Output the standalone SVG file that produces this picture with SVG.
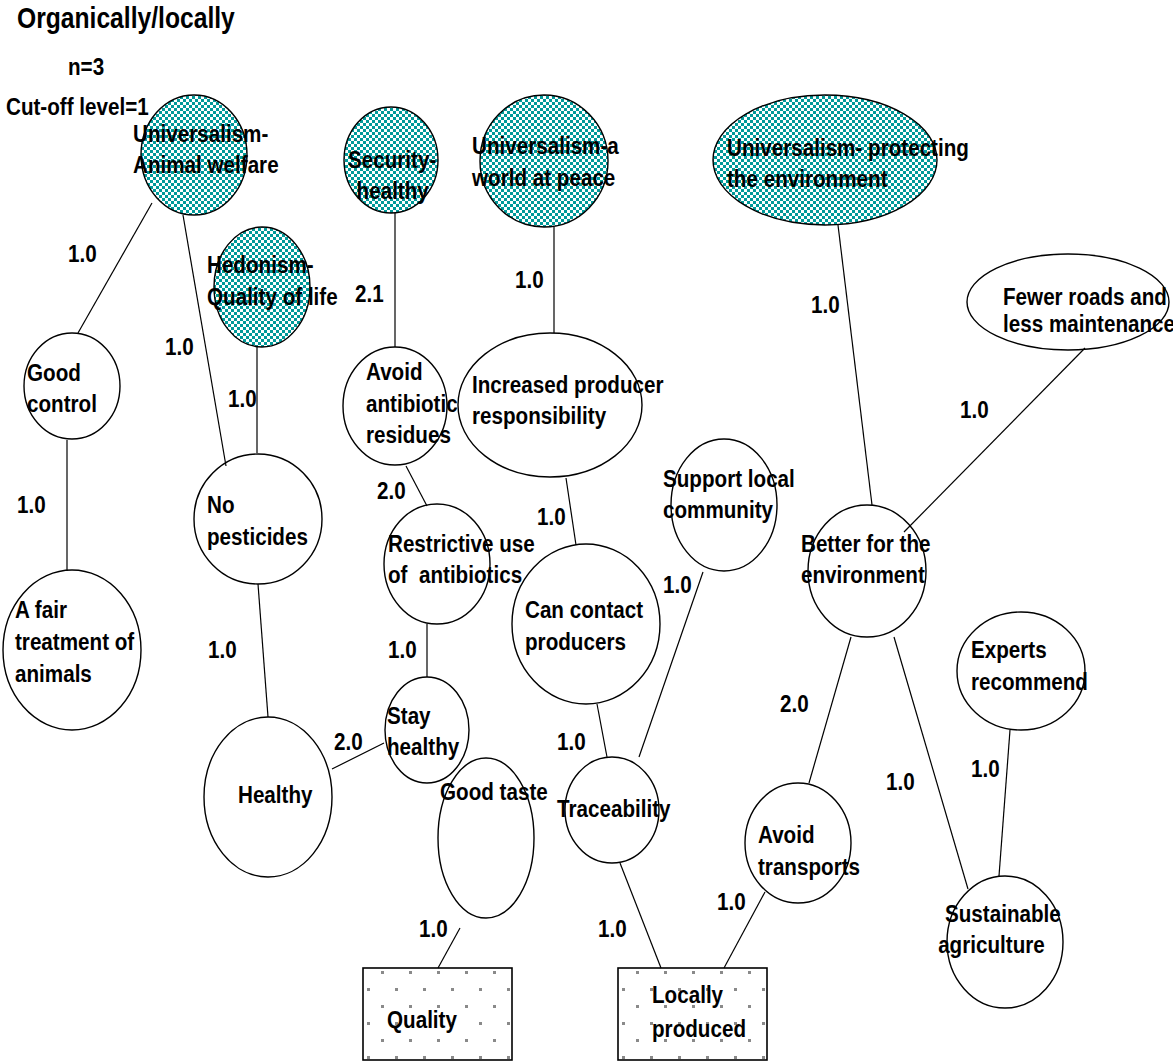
<svg xmlns="http://www.w3.org/2000/svg" width="1173" height="1064" viewBox="0 0 1173 1064">
  <defs>
    <!-- teal/white checkerboard used for the value nodes -->
    <pattern id="checker" patternUnits="userSpaceOnUse" width="6" height="6">
      <rect width="6" height="6" fill="#ffffff"/>
      <rect width="3" height="3" fill="#009999"/>
      <rect x="3" y="3" width="3" height="3" fill="#009999"/>
    </pattern>
    <!-- sparse grey dots used for the attribute boxes -->
    <pattern id="dotsA" patternUnits="userSpaceOnUse" x="368" y="971" width="28" height="34">
      <rect width="28" height="34" fill="#ffffff"/>
      <rect x="13" y="0" width="3" height="3" fill="#8a8a8a"/>
      <rect x="-1" y="17" width="3" height="3" fill="#8a8a8a"/>
      <rect x="27" y="17" width="3" height="3" fill="#8a8a8a"/>
    </pattern>
    <pattern id="dotsB" patternUnits="userSpaceOnUse" x="623" y="971" width="28" height="34">
      <rect width="28" height="34" fill="#ffffff"/>
      <rect x="13" y="0" width="3" height="3" fill="#8a8a8a"/>
      <rect x="-1" y="17" width="3" height="3" fill="#8a8a8a"/>
      <rect x="27" y="17" width="3" height="3" fill="#8a8a8a"/>
    </pattern>
  </defs>
  <style>
    text { font-family: "Liberation Sans", Arial, sans-serif; font-weight: bold; font-size: 24px; fill: #000; white-space: pre; }
    .title { font-size: 29px; }
    .node { stroke: #000; stroke-width: 1.4; fill: #fff; }
    .value { stroke: #000; stroke-width: 1.4; fill: url(#checker); }
    .box { stroke: #000; stroke-width: 1.6; }
    #connectors line { stroke: #000; stroke-width: 1.2; }
  </style>

  <rect width="1173" height="1064" fill="#fff"/>

  <!-- heading -->
  <g id="heading">
    <text class="title" transform="translate(17,28) scale(.85,1)">Organically/locally</text>
    <text transform="translate(68,75) scale(.86,1)">n=3</text>
    <text transform="translate(6,115) scale(.86,1)">Cut-off level=1</text>
  </g>

  <!-- value nodes -->
  <g id="n-animal-welfare">
    <ellipse class="value" cx="194" cy="155" rx="53" ry="60"/>
    <text transform="translate(133,142) scale(.86,1)"><tspan x="0" y="0">Universalism-</tspan><tspan x="0" y="31">Animal welfare</tspan></text>
  </g>
  <g id="n-security-healthy">
    <ellipse class="value" cx="391" cy="160" rx="47" ry="53"/>
    <text transform="translate(348,168) scale(.86,1)"><tspan x="0" y="0">Security-</tspan><tspan x="10" y="31">healthy</tspan></text>
  </g>
  <g id="n-world-peace">
    <ellipse class="value" cx="544" cy="161" rx="64" ry="66"/>
    <text transform="translate(472,154) scale(.86,1)"><tspan x="0" y="0">Universalism-a</tspan><tspan x="0" y="32">world at peace</tspan></text>
  </g>
  <g id="n-protecting-env">
    <ellipse class="value" cx="825" cy="160" rx="112" ry="65"/>
    <text transform="translate(727,156) scale(.86,1)"><tspan x="0" y="0">Universalism- protecting</tspan><tspan x="0" y="31">the environment</tspan></text>
  </g>
  <g id="n-quality-of-life">
    <ellipse class="value" cx="262" cy="287" rx="48" ry="60"/>
    <text transform="translate(207,273) scale(.86,1)"><tspan x="0" y="0">Hedonism-</tspan><tspan x="0" y="32">Quality of life</tspan></text>
  </g>

  <!-- consequence nodes -->
  <g id="n-good-control">
    <ellipse class="node" cx="72" cy="386" rx="48" ry="53"/>
    <text transform="translate(27,381) scale(.86,1)"><tspan x="0" y="0">Good</tspan><tspan x="0" y="31">control</tspan></text>
  </g>
  <g id="n-fair-treatment">
    <ellipse class="node" cx="72" cy="650" rx="69" ry="80"/>
    <text transform="translate(15,618) scale(.86,1)"><tspan x="0" y="0">A fair</tspan><tspan x="0" y="32">treatment of</tspan><tspan x="0" y="64">animals</tspan></text>
  </g>
  <g id="n-no-pesticides">
    <ellipse class="node" cx="258" cy="519" rx="64" ry="65"/>
    <text transform="translate(207,513) scale(.86,1)"><tspan x="0" y="0">No</tspan><tspan x="0" y="32">pesticides</tspan></text>
  </g>
  <g id="n-healthy">
    <ellipse class="node" cx="268" cy="797" rx="64" ry="80"/>
    <text transform="translate(238,803) scale(.86,1)">Healthy</text>
  </g>
  <g id="n-avoid-residues">
    <ellipse class="node" cx="395" cy="406" rx="52" ry="59"/>
    <text transform="translate(366,380) scale(.86,1)"><tspan x="0" y="0">Avoid</tspan><tspan x="0" y="32">antibiotic</tspan><tspan x="0" y="63">residues</tspan></text>
  </g>
  <g id="n-producer-responsibility">
    <ellipse class="node" cx="550" cy="405" rx="92" ry="72"/>
    <text transform="translate(472,393) scale(.86,1)"><tspan x="0" y="0">Increased producer</tspan><tspan x="0" y="31">responsibility</tspan></text>
  </g>
  <g id="n-restrictive-use">
    <ellipse class="node" cx="437" cy="564" rx="53" ry="60"/>
    <text transform="translate(388,552) scale(.86,1)"><tspan x="0" y="0">Restrictive use</tspan><tspan x="0" y="31">of  antibiotics</tspan></text>
  </g>
  <g id="n-stay-healthy">
    <ellipse class="node" cx="427" cy="730" rx="42" ry="53"/>
    <text transform="translate(387,724) scale(.86,1)"><tspan x="0" y="0">Stay</tspan><tspan x="0" y="31">healthy</tspan></text>
  </g>
  <g id="n-contact-producers">
    <ellipse class="node" cx="586" cy="624" rx="74" ry="80"/>
    <text transform="translate(525,618) scale(.86,1)"><tspan x="0" y="0">Can contact</tspan><tspan x="0" y="32">producers</tspan></text>
  </g>
  <g id="n-traceability">
    <ellipse class="node" cx="612" cy="810" rx="47" ry="53"/>
    <text transform="translate(557,817) scale(.86,1)">Traceability</text>
  </g>
  <g id="n-good-taste">
    <ellipse class="node" cx="486" cy="838" rx="48" ry="80"/>
    <text transform="translate(440,800) scale(.86,1)">Good taste</text>
  </g>
  <g id="n-local-community">
    <ellipse class="node" cx="724" cy="505" rx="53" ry="66"/>
    <text transform="translate(663,487) scale(.86,1)"><tspan x="0" y="0">Support local</tspan><tspan x="0" y="31">community</tspan></text>
  </g>
  <g id="n-better-environment">
    <ellipse class="node" cx="867" cy="571" rx="59" ry="66"/>
    <text transform="translate(801,552) scale(.86,1)"><tspan x="0" y="0">Better for the</tspan><tspan x="0" y="31">environment</tspan></text>
  </g>
  <g id="n-fewer-roads">
    <ellipse class="node" cx="1068" cy="302" rx="101" ry="48"/>
    <text transform="translate(1003,305) scale(.86,1)"><tspan x="0" y="0">Fewer roads and</tspan><tspan x="0" y="27">less maintenance</tspan></text>
  </g>
  <g id="n-experts">
    <ellipse class="node" cx="1021" cy="671" rx="64" ry="59"/>
    <text transform="translate(971,658) scale(.86,1)"><tspan x="0" y="0">Experts</tspan><tspan x="0" y="32">recommend</tspan></text>
  </g>
  <g id="n-avoid-transports">
    <ellipse class="node" cx="798" cy="843" rx="53" ry="60"/>
    <text transform="translate(758,843) scale(.86,1)"><tspan x="0" y="0">Avoid</tspan><tspan x="0" y="32">transports</tspan></text>
  </g>
  <g id="n-sustainable">
    <ellipse class="node" cx="1005" cy="942" rx="58" ry="66"/>
    <text transform="translate(945,922) scale(.86,1)"><tspan x="0" y="0">Sustainable</tspan><tspan x="-8" y="31">agriculture</tspan></text>
  </g>

  <!-- attribute nodes -->
  <g id="n-quality">
    <rect class="box" x="363" y="968" width="149" height="92" fill="url(#dotsA)"/>
    <text transform="translate(387,1028) scale(.86,1)">Quality</text>
  </g>
  <g id="n-locally-produced">
    <rect class="box" x="618" y="968" width="149" height="92" fill="url(#dotsB)"/>
    <text transform="translate(652,1003) scale(.86,1)"><tspan x="0" y="0">Locally</tspan><tspan x="0" y="34">produced</tspan></text>
  </g>

  <!-- links between nodes -->
  <g id="connectors">
    <line x1="152" y1="203" x2="78" y2="333"/>
    <line x1="183" y1="215" x2="226" y2="466"/>
    <line x1="257" y1="347" x2="257" y2="453"/>
    <line x1="67" y1="440" x2="67" y2="571"/>
    <line x1="258" y1="584" x2="268" y2="717"/>
    <line x1="332" y1="769" x2="384" y2="743"/>
    <line x1="395" y1="213" x2="395" y2="347"/>
    <line x1="406" y1="466" x2="427" y2="506"/>
    <line x1="427" y1="624" x2="427" y2="677"/>
    <line x1="554" y1="227" x2="554" y2="333"/>
    <line x1="566" y1="478" x2="576" y2="545"/>
    <line x1="597" y1="704" x2="607" y2="757"/>
    <line x1="703" y1="572" x2="639" y2="757"/>
    <line x1="620" y1="863" x2="661" y2="968"/>
    <line x1="765" y1="892" x2="724" y2="968"/>
    <line x1="460" y1="928" x2="438" y2="968"/>
    <line x1="838" y1="225" x2="872" y2="505"/>
    <line x1="1085" y1="348" x2="904" y2="532"/>
    <line x1="851" y1="637" x2="809" y2="783"/>
    <line x1="894" y1="637" x2="968" y2="889"/>
    <line x1="1010" y1="730" x2="999" y2="876"/>
  </g>

  <!-- link strengths -->
  <g id="link-labels">
    <text transform="translate(68,262) scale(.86,1)">1.0</text>
    <text transform="translate(165,355) scale(.86,1)">1.0</text>
    <text transform="translate(228,407) scale(.86,1)">1.0</text>
    <text transform="translate(17,513) scale(.86,1)">1.0</text>
    <text transform="translate(208,658) scale(.86,1)">1.0</text>
    <text transform="translate(334,750) scale(.86,1)">2.0</text>
    <text transform="translate(355,302) scale(.86,1)">2.1</text>
    <text transform="translate(377,499) scale(.86,1)">2.0</text>
    <text transform="translate(388,658) scale(.86,1)">1.0</text>
    <text transform="translate(515,288) scale(.86,1)">1.0</text>
    <text transform="translate(537,525) scale(.86,1)">1.0</text>
    <text transform="translate(557,750) scale(.86,1)">1.0</text>
    <text transform="translate(663,593) scale(.86,1)">1.0</text>
    <text transform="translate(419,937) scale(.86,1)">1.0</text>
    <text transform="translate(598,937) scale(.86,1)">1.0</text>
    <text transform="translate(717,910) scale(.86,1)">1.0</text>
    <text transform="translate(811,313) scale(.86,1)">1.0</text>
    <text transform="translate(960,418) scale(.86,1)">1.0</text>
    <text transform="translate(780,712) scale(.86,1)">2.0</text>
    <text transform="translate(886,790) scale(.86,1)">1.0</text>
    <text transform="translate(971,777) scale(.86,1)">1.0</text>
  </g>
</svg>
